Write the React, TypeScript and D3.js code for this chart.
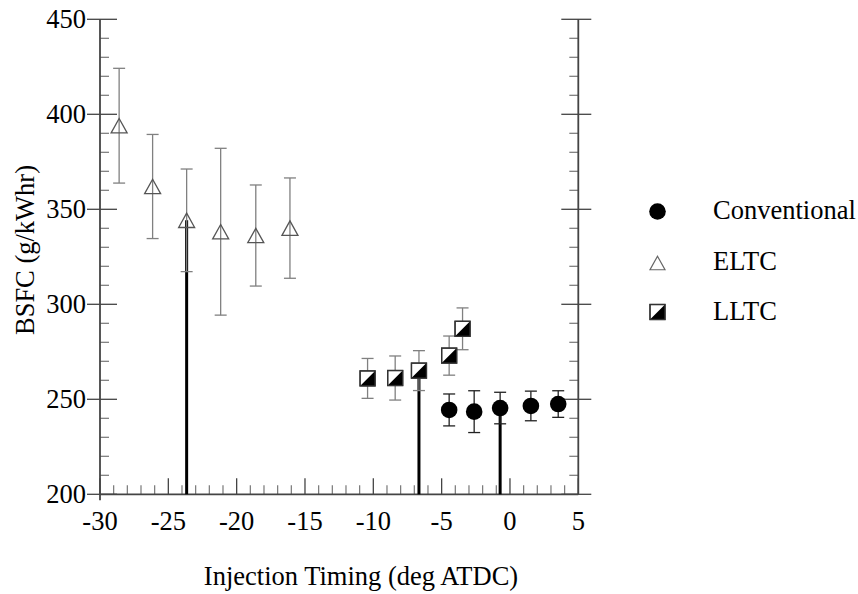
import React from "react";
import * as d3 from "d3";

// ---- data ----
const conventionalX = [-4.45, -2.62, -0.72, 1.53, 3.53];
const conventionalY = [244.4, 243.5, 245.4, 246.5, 247.5];
const conventionalErr = [8.4, 11, 8.3, 7.8, 7];

const eltcX = [-28.6, -26.15, -23.66, -21.17, -18.6, -16.1];
const eltcY = [394, 362, 344.2, 338.2, 336.2, 340.1];
const eltcErr = [30.2, 27.4, 27, 43.9, 26.6, 26.4];

const lltcX = [-10.42, -8.4, -6.66, -4.45, -3.47];
const lltcY = [261, 261.2, 265.1, 273, 287.1];
const lltcErr = [10.5, 11.6, 10.5, 10.3, 11];

// selected points (vertical drop lines)
const dropX = [-23.66, -6.66, -0.72];
const dropY = [344.2, 265.1, 245.4];

const xTicks = [-30, -25, -20, -15, -10, -5, 0, 5];
const yTicks = [200, 250, 300, 350, 400, 450];
const legendLabels = ["Conventional", "ELTC", "LLTC"];

const xTitle = "Injection Timing (deg ATDC)";
const yTitle = "BSFC (g/kWhr)";

const W = 858;
const H = 594;
const FONT = "Liberation Serif, Tinos, Times New Roman, DejaVu Serif, serif";

export default function App() {
  const x = d3.scaleLinear().domain([-30, 5]).range([100, 578.3]);
  const y = d3.scaleLinear().domain([200, 450]).range([494.3, 19.3]);

  const minorX = d3.range(-30, 5.001, 1).filter((v) => Math.abs(v % 5) > 1e-6);
  const minorY = d3.range(200, 450.001, 10).filter((v) => Math.abs(v % 50) > 1e-6);

  const axisColor = "#444";
  const x0 = x(-30);
  const x1 = x(5);
  const yb = y(200);
  const yt = y(450);
  const ts = { fontFamily: FONT, fontSize: "26.5px" } as React.CSSProperties;

  const errBar = (cx: number, v: number, e: number, color: string, key: string) => {
    const top = y(v + e);
    const bot = y(v - e);
    return (
      <g key={key} stroke={color} strokeWidth={1.3}>
        <line x1={cx} x2={cx} y1={top} y2={bot} />
        <line x1={cx - 6} x2={cx + 6} y1={top} y2={top} />
        <line x1={cx - 6} x2={cx + 6} y1={bot} y2={bot} />
      </g>
    );
  };

  const triangle = (cx: number, cy: number, s: number) => {
    const h = s * 0.9;
    return `M${cx},${cy - h / 2} L${cx + s / 2},${cy + h / 2} L${cx - s / 2},${cy + h / 2} Z`;
  };

  const halfSquare = (cx: number, cy: number, s: number, key: string) => {
    const h = s / 2;
    return (
      <g key={key}>
        <rect x={cx - h} y={cy - h} width={s} height={s} fill="#fff" stroke="#333" strokeWidth={1.3} />
        <path d={`M${cx + h},${cy - h} L${cx + h},${cy + h} L${cx - h},${cy + h} Z`} fill="#000" />
        <rect x={cx - h} y={cy - h} width={s} height={s} fill="none" stroke="#333" strokeWidth={1.3} />
      </g>
    );
  };

  return (
    <svg
      width={W}
      height={H}
      viewBox={`0 0 ${W} ${H}`}
      style={{ position: "absolute", left: 0, top: 0, background: "#fff", display: "block", fontFamily: FONT }}
    >
      <rect x={0} y={0} width={W} height={H} fill="#fff" />

      {/* minor ticks */}
      <g stroke="#777" strokeWidth={1.2}>
        {minorX.map((v) => (
          <line key={"mx" + v} x1={x(v)} x2={x(v)} y1={yb} y2={yb - 9} />
        ))}
        {minorY.map((v) => (
          <g key={"my" + v}>
            <line x1={x0} x2={x0 + 9} y1={y(v)} y2={y(v)} />
            <line x1={x1} x2={x1 - 9} y1={y(v)} y2={y(v)} />
          </g>
        ))}
      </g>

      {/* major ticks */}
      <g stroke={axisColor} strokeWidth={1.3}>
        {xTicks.map((v) => (
          <line key={"Mx" + v} x1={x(v)} x2={x(v)} y1={yb} y2={yb - 16} />
        ))}
        {yTicks.map((v) => (
          <g key={"My" + v}>
            <line x1={x0 - 13} x2={x0 + 17} y1={y(v)} y2={y(v)} />
            <line x1={x1 - 17} x2={x1 + 13} y1={y(v)} y2={y(v)} />
          </g>
        ))}
      </g>

      {/* spines */}
      <g stroke={axisColor} strokeWidth={1.8}>
        <line x1={x0} x2={x0} y1={yt} y2={yb + 6} />
        <line x1={x1} x2={x1} y1={yt} y2={yb} />
        <line x1={x0} x2={x1} y1={yb} y2={yb} />
      </g>

      {/* tick labels */}
      <g fill="#000">
        {xTicks.map((v) => (
          <text key={"lx" + v} x={x(v)} y={529.5} textAnchor="middle" style={ts}>
            {v < 0 ? "-" + Math.abs(v) : String(v)}
          </text>
        ))}
        {yTicks.map((v) => (
          <text key={"ly" + v} x={x0 - 14} y={y(v) + 9} textAnchor="end" style={ts}>
            {v}
          </text>
        ))}
      </g>

      {/* axis titles */}
      <text x={361} y={584.5} textAnchor="middle" fill="#000" style={ts}>
        {xTitle}
      </text>
      <text transform={`translate(33.5,250) rotate(-90)`} textAnchor="middle" fill="#000" style={ts}>
        {yTitle}
      </text>

      {/* drop lines */}
      <g stroke="#000" strokeWidth={3}>
        {dropX.map((v, i) => (
          <line key={"d" + i} x1={x(v)} x2={x(v)} y1={y(dropY[i])} y2={yb} />
        ))}
      </g>

      {/* ELTC */}
      {eltcX.map((v, i) => errBar(x(v), eltcY[i], eltcErr[i], "#808080", "ee" + i))}
      {eltcX.map((v, i) => (
        <path
          key={"et" + i}
          d={triangle(x(v), y(eltcY[i]), 16)}
          fill="none"
          stroke="#555"
          strokeWidth={1.3}
        />
      ))}

      {/* LLTC */}
      {lltcX.map((v, i) => errBar(x(v), lltcY[i], lltcErr[i], "#808080", "le" + i))}
      {lltcX.map((v, i) => halfSquare(x(v), y(lltcY[i]), 15, "ls" + i))}

      {/* Conventional */}
      {conventionalX.map((v, i) =>
        errBar(x(v), conventionalY[i], conventionalErr[i], "#222", "ce" + i)
      )}
      {conventionalX.map((v, i) => (
        <circle key={"cc" + i} cx={x(v)} cy={y(conventionalY[i])} r={8.3} fill="#000" />
      ))}

      {/* legend */}
      <g>
        <circle cx={657.5} cy={211.5} r={8.3} fill="#000" />
        <path d={triangle(657.5, 263, 15)} fill="none" stroke="#666" strokeWidth={1.2} />
        {halfSquare(657.5, 312, 15, "lgs")}
        {legendLabels.map((t, i) => (
          <text key={"lg" + i} x={713} y={219 + i * 50.5} fill="#000" style={ts}>
            {t}
          </text>
        ))}
      </g>
    </svg>
  );
}
